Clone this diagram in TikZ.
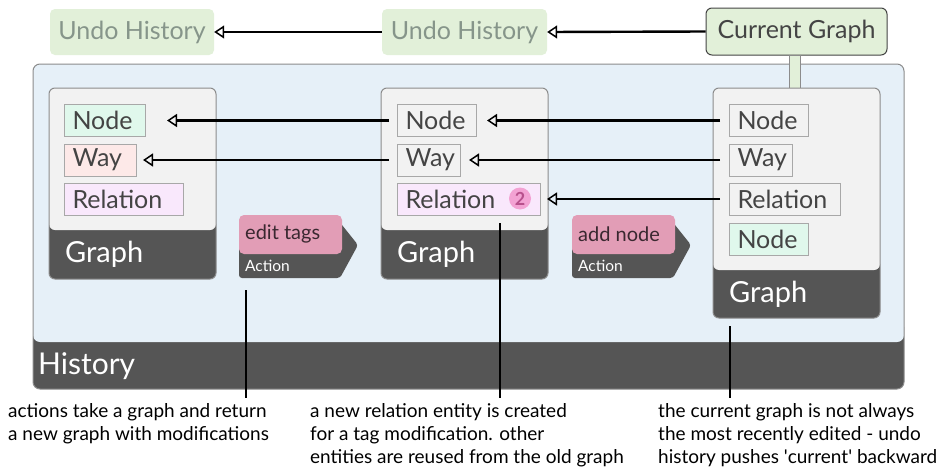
\documentclass[tikz,border=0pt]{standalone}
\usepackage{fontspec}
\setmainfont{Lato}
\usetikzlibrary{arrows.meta}
\definecolor{bandc}{HTML}{555555}
\definecolor{histbg}{HTML}{E6F0F8}
\definecolor{histb}{HTML}{8C8C8C}
\definecolor{graphbg}{HTML}{F2F2F2}
\definecolor{uhbg}{HTML}{E2F0D9}
\definecolor{uhtxt}{HTML}{86958A}
\definecolor{txt}{HTML}{444444}
\definecolor{entb}{HTML}{A8A8A8}
\definecolor{nodeg}{HTML}{E0F8EC}
\definecolor{wayp}{HTML}{FDE9E8}
\definecolor{relp}{HTML}{F9E8FC}
\definecolor{actpink}{HTML}{E29DB6}
\definecolor{acttxt}{HTML}{3A2830}
\definecolor{badgec}{HTML}{F3A2D3}
\definecolor{badget}{HTML}{B8508C}
\tikzset{
  uh/.style={fill=uhbg, rounded corners=5pt, minimum height=46pt, text=uhtxt,
    font=\fontsize{25}{27}\selectfont, inner sep=0pt},
  cgbox/.style={fill=uhbg, draw=txt, line width=1pt, rounded corners=6pt, minimum height=47pt,
    text=txt, font=\fontsize{25}{27}\selectfont, inner sep=0pt},
  ent/.style={draw=entb, line width=1pt, minimum height=32pt, inner xsep=8pt, inner ysep=0pt,
    anchor=north west, text=txt, font=\fontsize{25}{26}\selectfont, align=left},
  glabel/.style={text=white, font=\fontsize{29}{31}\selectfont, anchor=west, inner sep=0pt},
  conn/.style={line width=2.4pt, -{Triangle[open, length=10pt, width=13pt, line width=1.5pt]}},
  callout/.style={line width=2.2pt},
  note/.style={anchor=north west, align=left, font=\fontsize{19}{23}\selectfont, inner sep=0pt,
    text=black},
  actlbl/.style={anchor=west, inner sep=0pt, font=\fontsize{20}{22}\selectfont, text=acttxt},
  actsub/.style={anchor=west, inner sep=0pt, font=\fontsize{15.5}{17}\selectfont, text=white},
}
\newcommand{\graphcard}[6]{% x1 y1 x2 y2 bandtop name
  \fill[bandc, rounded corners=6pt] (#1,#5-12) rectangle (#3,#4);
  \fill[graphbg, rounded corners=6pt] (#1,#2) rectangle (#3,#5);
  \draw[histb, line width=1pt, rounded corners=6pt] (#1,#2) rectangle (#3,#4);
  \node[glabel] (#6) at (#1+16,#5+24) {Graph};
}
\newcommand{\actioncard}[3]{% x1 name label
  \fill[bandc, rounded corners=3pt] (#1,220) -- (#1+99,220) -- (#1+119,245) -- (#1+101,278) -- (#1,278) -- cycle;
  \fill[actpink, rounded corners=5pt] (#1,215) rectangle (#1+103,254);
  \node[actlbl] (#2) at (#1+6,234) {#3};
  \node[actsub] (#2s) at (#1+6,266) {Action};
}
\begin{document}
\begin{tikzpicture}[x=1pt,y=-1pt]
\useasboundingbox[fill=white] (0,0) rectangle (943,474);

% top row
\node[uh, minimum width=164pt] (uh1) at (132,32) {Undo History};
\node[uh, minimum width=165pt] (uh2) at (464.5,32) {Undo History};
\node[cgbox, minimum width=181pt] (cg) at (796.5,31.5) {Current Graph};
\draw[conn] (uh2.west) -- (uh1.east);
\draw[conn] (cg.west) -- (uh2.east);

% history container
\fill[bandc, rounded corners=7pt] (33,320) rectangle (904,389);
\fill[histbg, rounded corners=7pt] (33,64) rectangle (904,342);
\draw[histb, line width=1pt, rounded corners=7pt] (33,64) rectangle (904,389);
\node[glabel, font=\fontsize{30}{32}\selectfont] (hist) at (38,366) {History};

% link current graph -> graph 3
\draw[fill=uhbg, draw=histb, line width=1pt] (789,55.5) rectangle (800,88);

% graph cards
\graphcard{49}{88}{216}{279}{230}{g1}
\graphcard{381}{88}{548}{279}{230}{g2}
\graphcard{713}{88}{880}{318}{270}{g3}

% entities graph 1
\node[ent, fill=nodeg, text width=65pt] (g1n) at (64,104) {Node};
\node[ent, fill=wayp, text width=56pt] (g1w) at (64,143.5) {Way};
\node[ent, fill=relp, text width=103pt] (g1r) at (64,182.5) {Relation};
% entities graph 2
\node[ent, text width=63pt] (g2n) at (397,104) {Node};
\node[ent, text width=47pt] (g2w) at (397,143.5) {Way};
\node[ent, fill=relp, text width=127pt] (g2r) at (397,182.5) {Relation};
\node[circle, fill=badgec, minimum size=22pt, inner sep=0pt, text=badget,
  font=\bfseries\fontsize{18}{18}\selectfont] (badge) at (520,198.5) {2};
% entities graph 3
\node[ent, text width=63pt] (g3n) at (729,104) {Node};
\node[ent, text width=47pt] (g3w) at (729,143.5) {Way};
\node[ent, text width=95pt] (g3r) at (729,182.5) {Relation};
\node[ent, fill=nodeg, text width=63pt] (g3n2) at (729,222.5) {Node};

% reuse arrows
\draw[conn] ([xshift=-9pt]g3n.west) -- ([xshift=10pt]g2n.east);
\draw[conn] ([xshift=-9pt]g3w.west) -- ([xshift=8pt]g2w.east);
\draw[conn] ([xshift=-9pt]g3r.west) -- ([xshift=6pt]g2r.east);
\draw[conn] ([xshift=-8pt]g2n.west) -- ([xshift=21pt]g1n.east);
\draw[conn] ([xshift=-8pt]g2w.west) -- ([xshift=6pt]g1w.east);

% actions
\actioncard{239}{a1}{edit tags}
\actioncard{572}{a2}{add node}

% callouts
\coordinate (c1a) at (246,290);
\coordinate (c1b) at (246,398);
\coordinate (c2a) at (500,223);
\coordinate (c2b) at (500,398);
\coordinate (c3a) at (730,326);
\coordinate (c3b) at (730,398);
\draw[callout] (c1a) -- (c1b);
\draw[callout] (c2a) -- (c2b);
\draw[callout] (c3a) -- (c3b);

\node[note] (n1) at (8,403) {actions take a graph and return\\a new graph with modifications};
\node[note] (n2) at (310,403) {a new relation entity is created\\for a tag modification. other\\entities are reused from the old graph};
\node[note] (n3) at (658,403) {the current graph is not always\\the most recently edited - undo\\history pushes \textquotesingle current\textquotesingle\ backward};
\end{tikzpicture}
\end{document}
